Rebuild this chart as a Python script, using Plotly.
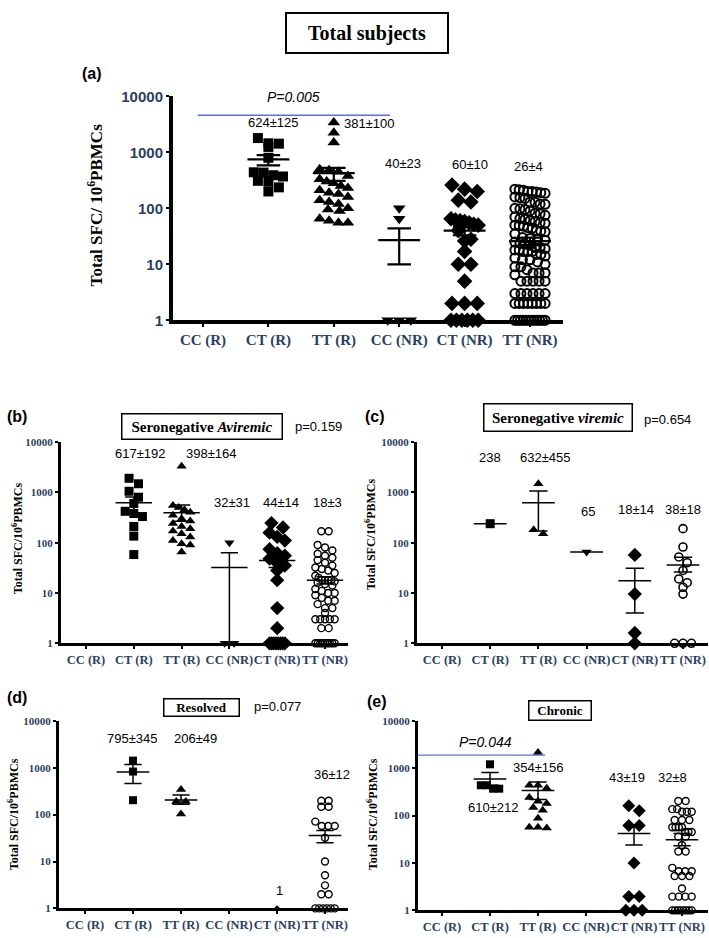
import math
import plotly.graph_objects as go

W, H = 709, 938
categories = ["CC (R)", "CT (R)", "TT (R)", "CC (NR)", "CT (NR)", "TT (NR)"]
y_tick_vals = [1, 10, 100, 1000, 10000]
y_tick_text = ["1", "10", "100", "1000", "10000"]

# ---------------- (a) Total subjects ----------------
a_cc_r = []
a_ct_r = [1800, 1450, 1430, 1250, 800, 440, 435, 390, 370, 310, 300, 237, 200]
a_tt_r = [3400, 2250, 1500, 500, 480, 450, 380, 330, 300, 280, 250, 230, 210, 190,
          180, 160, 140, 130, 120, 100, 95, 90, 65, 60, 55, 55]
a_cc_nr = [100, 65, 1, 1, 1]
a_ct_nr = [260, 220, 200, 140, 130, 65, 62, 60, 58, 55, 52, 50, 40, 28, 26, 17, 10, 10,
           5, 2, 2, 2, 1, 1, 1, 1, 1, 1]
a_tt_nr = [220, 215, 210, 200, 200, 195, 190, 185, 160, 155, 150, 130, 128, 120, 118,
           100, 98, 95, 90, 82, 80, 75, 70, 66, 64, 60, 58, 55, 54, 50, 49, 48, 45, 44,
           40, 39, 38, 35, 30, 29, 28, 27, 25, 24, 23, 22, 20, 20, 19, 18, 18, 17, 17, 17,
           15, 15, 14, 13, 12, 12, 11, 10, 9, 9, 8, 7, 7, 7, 6.5, 5, 5, 5, 5, 5,
           3, 3, 3, 3, 3, 3, 2, 2, 2, 2, 2, 2, 2, 2,
           1, 1, 1, 1, 1, 1, 1, 1, 1, 1, 1, 1]
a_mean = [None, 750, 425, 27, 40, 26]
a_sem_hi = [None, 890, 530, 44, 47, 30]
a_sem_lo = [None, 585, 310, 10, 33, 22]
a_labels = ["", "624±125", "381±100", "40±23", "60±10", "26±4"]
a_p_text = "P=0.005"
a_p_value_y = 4600
a_p_span = [-0.08, 2.86]

# ---------------- (b) Seronegative Aviremic ----------------
b_cc_r = []
b_ct_r = [1900, 1480, 1050, 800, 600, 420, 380, 330, 210, 135, 58]
b_tt_r = [3300, 550, 500, 450, 400, 350, 300, 270, 240, 210, 190, 170, 150, 130, 110,
          95, 90, 65]
b_cc_nr = [100, 1, 1]
b_ct_nr = [245, 200, 158, 130, 110, 74, 62, 55, 48, 44, 38, 35, 28, 18, 5, 2,
           1, 1, 1, 1, 1, 1, 1, 1]
b_tt_nr = [168, 168, 90, 80, 70, 60, 55, 50, 45, 40, 35, 32, 30, 28, 25, 22, 20, 18, 18,
           18, 18, 17, 16, 15, 14, 12, 11, 10, 10, 9, 8, 7, 7, 6, 5, 5, 4, 3, 3, 3, 3, 3,
           2, 2, 1, 1, 1, 1, 1, 1, 1, 1, 1]
b_mean = [None, 620, 395, 32, 44, 18]
b_sem_hi = [None, 810, 560, 63, 58, 21]
b_sem_lo = [None, 380, 265, 1, 32, 15]
b_labels = ["", "617±192", "398±164", "32±31", "44±14", "18±3"]
b_title = "Seronegative <i>Aviremic</i>"
b_p_text = "p=0.159"

# ---------------- (c) Seronegative viremic ----------------
c_cc_r = []
c_ct_r = [238]
c_tt_r = [1480, 181, 150]
c_cc_nr = [65]
c_ct_nr = [57, 9.5, 1.6, 1]
c_tt_nr = [190, 82, 52, 40, 28, 19, 16, 13, 9.5, 1, 1, 1]
c_mean = [None, 238, 620, 65, 17.5, 36]
c_sem_hi = [None, None, 1060, None, 31, 51]
c_sem_lo = [None, None, 170, None, 4, 26]
c_labels = ["", "238", "632±455", "65", "18±14", "38±18"]
c_title = "Seronegative <i>viremic</i>"
c_p_text = "p=0.654"

# ---------------- (d) Resolved ----------------
d_cc_r = []
d_ct_r = [1420, 830, 203]
d_tt_r = [345, 190, 190, 103]
d_cc_nr = []
d_ct_nr = [1]
d_tt_nr = [197, 197, 147, 147, 71, 57, 57, 57, 32, 10, 5.1, 3.1, 2, 2,
           1, 1, 1, 1, 1, 1]
d_mean = [None, 810, 206, None, None, 36]
d_sem_hi = [None, 1170, 263, None, None, 46]
d_sem_lo = [None, 460, 167, None, None, 25]
d_labels = ["", "795±345", "206±49", "", "1", "36±12"]
d_title = "Resolved"
d_p_text = "p=0.077"

# ---------------- (e) Chronic ----------------
e_cc_r = []
e_ct_r = [1210, 437, 437, 370, 370]
e_tt_r = [2150, 437, 437, 380, 240, 200, 180, 148, 130, 88, 57, 57, 55]
e_cc_nr = []
e_ct_nr = [161, 127, 62, 62, 10, 1.95, 1.95, 1, 1, 1]
e_tt_nr = [204, 204, 137, 137, 121, 121, 121, 81, 81, 81, 57, 57, 57, 57, 45, 45, 45,
           36, 36, 24, 17.5, 17.5, 7.9, 6.7, 6.7, 6.7, 5.3, 5.3, 5.3, 2.9,
           1.95, 1.95, 1.95, 1.95, 1, 1, 1, 1, 1, 1, 1, 1]
e_mean = [None, 590, 340, None, 42, 31]
e_sem_hi = [None, 810, 515, None, 57, 42]
e_sem_lo = [None, 440, 220, None, 24, 23]
e_labels = ["", "610±212", "354±156", "", "43±19", "32±8"]
e_title = "Chronic"
e_p_text = "P=0.044"
e_p_value_y = 1900
e_p_span = [-0.5, 2.15]

# ================= layout geometry (pixels) =================
SERIF = "Liberation Serif"
SANS = "Liberation Sans"
symbols = [None, "square", "triangle-up", "triangle-down", "diamond", "circle-open"]

panels = [
    dict(key="a", groups=[a_cc_r, a_ct_r, a_tt_r, a_cc_nr, a_ct_nr, a_tt_nr],
         mean=a_mean, hi=a_sem_hi, lo=a_sem_lo,
         x0=173, x1=563, cat0=203, cat5=530, ytop=89, ybot=317,
         sizes=[0, 10, 11, 11, 12, 9], circ_lw=2.0, line_w=2.2, axis_w=4,
         mean_hw=0.32, cap_hw=0.18, spread=0.6,
         xtick_font=dict(family=SERIF, size=15, weight="bold"),
         ytick_font=dict(family=SANS, size=15, weight="bold")),
    dict(key="b", groups=[b_cc_r, b_ct_r, b_tt_r, b_cc_nr, b_ct_nr, b_tt_nr],
         mean=b_mean, hi=b_sem_hi, lo=b_sem_lo,
         x0=61, x1=348, cat0=86, cat5=325, ytop=441, ybot=646,
         sizes=[0, 9, 9, 9, 11, 7], circ_lw=1.4, line_w=1.5, axis_w=3,
         mean_hw=0.38, cap_hw=0.18, spread=0.55,
         xtick_font=dict(family=SERIF, size=12.5, weight="bold"),
         ytick_font=dict(family=SERIF, size=11, weight="bold")),
    dict(key="c", groups=[c_cc_r, c_ct_r, c_tt_r, c_cc_nr, c_ct_nr, c_tt_nr],
         mean=c_mean, hi=c_sem_hi, lo=c_sem_lo,
         x0=417, x1=708, cat0=442, cat5=683, ytop=441, ybot=646,
         sizes=[0, 9, 9, 9, 11, 8], circ_lw=1.6, line_w=1.5, axis_w=3,
         mean_hw=0.34, cap_hw=0.19, spread=0.55,
         xtick_font=dict(family=SERIF, size=12.5, weight="bold"),
         ytick_font=dict(family=SERIF, size=11, weight="bold")),
    dict(key="d", groups=[d_cc_r, d_ct_r, d_tt_r, d_cc_nr, d_ct_nr, d_tt_nr],
         mean=d_mean, hi=d_sem_hi, lo=d_sem_lo,
         x0=59, x1=348, cat0=85, cat5=325, ytop=725, ybot=916,
         sizes=[0, 8, 9, 9, 5, 7], circ_lw=1.4, line_w=1.5, axis_w=3,
         mean_hw=0.34, cap_hw=0.18, spread=0.55,
         xtick_font=dict(family=SERIF, size=12.5, weight="bold"),
         ytick_font=dict(family=SERIF, size=11, weight="bold")),
    dict(key="e", groups=[e_cc_r, e_ct_r, e_tt_r, e_cc_nr, e_ct_nr, e_tt_nr],
         mean=e_mean, hi=e_sem_hi, lo=e_sem_lo,
         x0=418, x1=708, cat0=442, cat5=682, ytop=725, ybot=918,
         sizes=[0, 8, 9, 9, 10, 7], circ_lw=1.4, line_w=1.5, axis_w=3,
         mean_hw=0.34, cap_hw=0.18, spread=0.55,
         xtick_font=dict(family=SERIF, size=12.5, weight="bold"),
         ytick_font=dict(family=SERIF, size=11, weight="bold")),
]


def swarm(vals, d, ppu, ppd, maxw):
    """GraphPad-like row beeswarm offsets (in category units)."""
    ys = [math.log10(v) * ppd for v in vals]
    order = sorted(range(len(vals)), key=lambda i: -ys[i])
    offs = [0.0] * len(vals)
    rows, cur, start = [], [], None
    for i in order:
        if start is None or start - ys[i] > 0.85 * d:
            if cur:
                rows.append(cur)
            cur, start = [i], ys[i]
        else:
            cur.append(i)
    if cur:
        rows.append(cur)
    for r in rows:
        k = len(r)
        step = min(d * 1.05, maxw / (k - 1)) if k > 1 else 0
        for j, i in enumerate(r):
            offs[i] = (j - (k - 1) / 2) * step / ppu
    return offs


def px(x, y):
    return x / W, 1 - y / H


fig = go.Figure()
layout = {}

for n, p in enumerate(panels, start=1):
    xa = "x" if n == 1 else f"x{n}"
    ya = "y" if n == 1 else f"y{n}"
    ppu = (p["cat5"] - p["cat0"]) / 5
    ppd = (p["ybot"] - p["ytop"]) / 4
    xr = [(p["x0"] - p["cat0"]) / ppu, (p["x1"] - p["cat0"]) / ppu]

    for i, vals in enumerate(p["groups"]):
        if not vals:
            continue
        s = p["sizes"][i]
        offs = swarm(vals, s, ppu, ppd, p["spread"] * ppu - s)
        if symbols[i] == "circle-open":
            marker = dict(symbol="circle-open", size=s, color="black",
                          line=dict(width=p["circ_lw"], color="black"))
        else:
            marker = dict(symbol=symbols[i], size=s, color="black",
                          line=dict(width=0))
        fig.add_trace(go.Scatter(x=[i + o for o in offs], y=vals, mode="markers",
                                 marker=marker, xaxis=xa, yaxis=ya,
                                 cliponaxis=False, showlegend=False,
                                 hoverinfo="skip"))

    # mean and SEM bars
    lx, ly = [], []
    for i, m in enumerate(p["mean"]):
        if m is None:
            continue
        hw, cw = p["mean_hw"], p["cap_hw"]
        lx += [i - hw, i + hw, None]
        ly += [m, m, None]
        hi, lo = p["hi"][i], p["lo"][i]
        if hi is not None and lo is not None:
            lx += [i, i, None, i - cw, i + cw, None]
            ly += [lo, hi, None, hi, hi, None]
            if lo > 1:
                lx += [i - cw, i + cw, None]
                ly += [lo, lo, None]
    fig.add_trace(go.Scatter(x=lx, y=ly, mode="lines",
                             line=dict(color="black", width=p["line_w"]),
                             xaxis=xa, yaxis=ya, cliponaxis=False,
                             showlegend=False, hoverinfo="skip"))

    layout["xaxis" if n == 1 else f"xaxis{n}"] = dict(
        domain=[p["x0"] / W, p["x1"] / W], range=xr, anchor=ya,
        tickvals=list(range(6)), ticktext=categories, tickfont=p["xtick_font"],
        showline=True, linecolor="black", linewidth=p["axis_w"],
        ticks="outside", ticklen=3, tickwidth=1.5, tickcolor="black",
        showgrid=False, zeroline=False, fixedrange=True, tickangle=0)
    layout["yaxis" if n == 1 else f"yaxis{n}"] = dict(
        domain=[1 - p["ybot"] / H, 1 - p["ytop"] / H], type="log", range=[0, 4],
        anchor=xa, tickvals=y_tick_vals, ticktext=y_tick_text,
        tickfont=p["ytick_font"], showline=True, linecolor="black",
        linewidth=p["axis_w"], ticks="outside", ticklen=3, tickwidth=2,
        tickcolor="black", showgrid=False, zeroline=False, fixedrange=True)

# P lines (blue)
fig.add_trace(go.Scatter(x=a_p_span, y=[a_p_value_y] * 2, mode="lines",
                         line=dict(color="#5a6ee0", width=1.3), xaxis="x", yaxis="y",
                         cliponaxis=False, showlegend=False, hoverinfo="skip"))
fig.add_trace(go.Scatter(x=e_p_span, y=[e_p_value_y] * 2, mode="lines",
                         line=dict(color="#5a6ee0", width=1.3), xaxis="x5", yaxis="y5",
                         cliponaxis=False, showlegend=False, hoverinfo="skip"))

ann = []


def add_text(text, x, y, size, family=SANS, bold=False, italic=False, angle=0,
             box=None, bw=1.5):
    xp, yp = px(x, y)
    font = dict(family=family, size=size, color="black")
    if bold:
        font["weight"] = "bold"
    if italic:
        font["style"] = "italic"
    d = dict(text=text, x=xp, y=yp, xref="paper", yref="paper", showarrow=False,
             xanchor="center", yanchor="middle", font=font, textangle=angle)
    if box:
        d.update(width=box[0], height=box[1], bordercolor="black", borderwidth=bw,
                 borderpad=0, align="center", valign="middle")
    ann.append(d)


# main title box
add_text("Total subjects", 367, 24, 20, SERIF, bold=True, box=(160, 38), bw=2)

# panel letters
add_text("(a)", 92, 66, 16, SANS, bold=True)
add_text("(b)", 17, 415, 16, SANS, bold=True)
add_text("(c)", 375, 415, 16, SANS, bold=True)
add_text("(d)", 17, 701, 16, SANS, bold=True)
add_text("(e)", 377, 705, 16, SANS, bold=True)

# y axis titles
add_text("Total SFC/ 10<sup>6</sup>PBMCs", 95, 200, 17, SERIF, bold=True, angle=-90)
add_text("Total SFC/10<sup>6</sup>PBMCs", 17, 539, 12, SERIF, bold=True, angle=-90)
add_text("Total SFC/10<sup>6</sup>PBMCs", 370, 535, 12, SERIF, bold=True, angle=-90)
add_text("Total SFC/10<sup>6</sup>PBMCs", 13, 820, 12, SERIF, bold=True, angle=-90)
add_text("Total SFC/10<sup>6</sup>PBMCs", 372, 820, 12, SERIF, bold=True, angle=-90)

# panel sub-titles and p values
add_text(b_title, 202, 425, 15, SERIF, bold=True, box=(159, 24))
add_text(b_p_text, 318, 425, 13, SANS)
add_text(c_title, 558, 416, 15, SERIF, bold=True, box=(147, 26))
add_text(c_p_text, 667, 418, 13, SANS)
add_text(d_title, 201, 711, 13, SERIF, bold=True, box=(74, 16))
add_text(d_p_text, 277, 710, 13, SANS)
add_text(e_title, 560, 714, 13, SERIF, bold=True, box=(61, 18))

# P annotations
add_text(a_p_text, 293, 90, 14, SANS, italic=True)
add_text(e_p_text, 485, 747, 14, SANS, italic=True)

# mean +/- SEM value labels
label_pos = {
    "a": [None, (273, 116), (369, 117), (403, 157), (470, 158), (528, 160)],
    "b": [None, (140, 453), (212, 453), (232, 503), (281, 503), (327, 503)],
    "c": [None, (490, 457), (545, 457), (588, 512), (636, 510), (683, 510)],
    "d": [None, (132, 743), (195, 743), None, (279, 898), (332, 780)],
    "e": [None, (493, 813), (538, 772), None, (627, 783), (672, 783)],
}
all_labels = {"a": a_labels, "b": b_labels, "c": c_labels, "d": d_labels, "e": e_labels}
for k, labs in all_labels.items():
    for i, t in enumerate(labs):
        if t and label_pos[k][i] is not None:
            x, y = label_pos[k][i]
            add_text(t, x, y, 13, SANS)

fig.update_layout(**layout)
fig.update_layout(width=W, height=H, autosize=False,
                  margin=dict(l=0, r=0, t=0, b=0, pad=0),
                  paper_bgcolor="white", plot_bgcolor="white",
                  showlegend=False, annotations=ann)

fig.write_html("out.html", config={"displayModeBar": False},
               post_script="document.body.style.margin='0';")
